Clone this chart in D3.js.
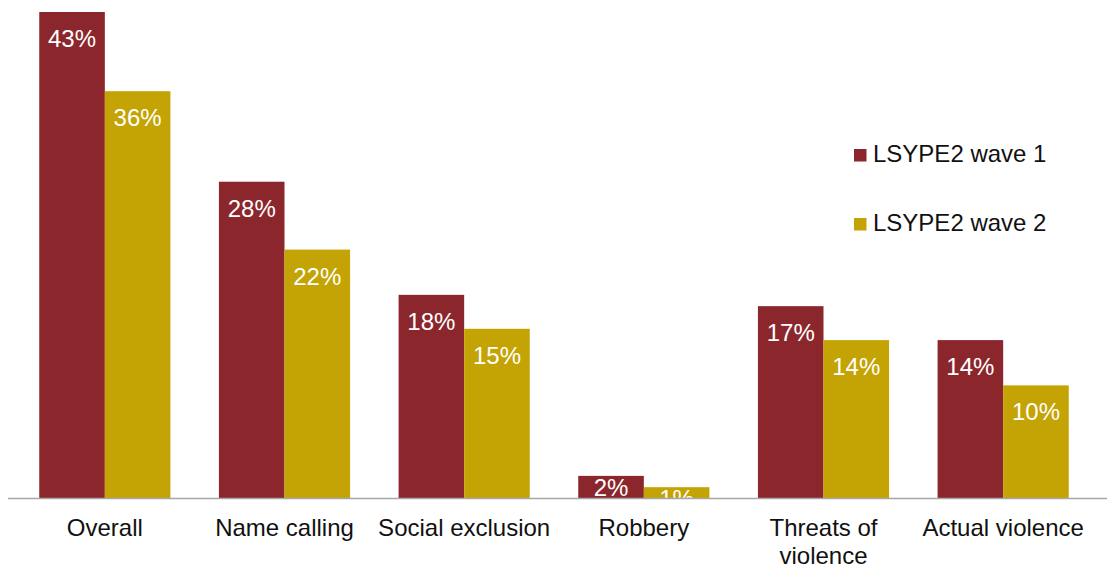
<!DOCTYPE html>
<html>
<head>
<meta charset="utf-8">
<script src="https://cdn.jsdelivr.net/npm/d3@7"></script>
<style>
  html, body { margin: 0; padding: 0; background: #fff; }
  svg { display: block; font-family: "Liberation Sans", Arial, sans-serif; }
</style>
</head>
<body>
<svg id="chart" width="1107" height="569"></svg>
<script>
// Bullying experienced, by type, across the two survey waves (%)
const categories = ["Overall", "Name calling", "Social exclusion", "Robbery", "Threats of violence", "Actual violence"];
const seriesNames = ["LSYPE2 wave 1", "LSYPE2 wave 2"];
const wave1 = [43, 28, 18, 2, 17, 14];
const wave2 = [36, 22, 15, 1, 14, 10];
const seriesColors = ["#8b262c", "#c4a304"];

const svg = d3.select("#chart");
const W = 1107, H = 569;
const baseY = 498.5;

const x = d3.scaleBand()
  .domain(categories)
  .range([15, 1093])
  .paddingInner(0.27)
  .paddingOuter(0.135);

const xs = d3.scaleBand()
  .domain(seriesNames)
  .range([0, x.bandwidth()]);

const y = d3.scaleLinear()
  .domain([0, 43])
  .range([baseY, 12]);

const rows = categories.map((c, i) => ({
  cat: c,
  vals: [
    { series: seriesNames[0], value: wave1[i], color: seriesColors[0] },
    { series: seriesNames[1], value: wave2[i], color: seriesColors[1] }
  ]
}));

// clip so value labels never spill below the baseline
svg.append("defs").append("clipPath").attr("id", "plotClip")
  .append("rect").attr("x", 0).attr("y", 0).attr("width", W).attr("height", baseY);

const groups = svg.append("g").selectAll("g.grp")
  .data(rows).join("g")
  .attr("class", "grp")
  .attr("transform", d => `translate(${x(d.cat)},0)`);

groups.selectAll("rect")
  .data(d => d.vals).join("rect")
  .attr("x", d => xs(d.series))
  .attr("y", d => y(d.value))
  .attr("width", xs.bandwidth())
  .attr("height", d => baseY - y(d.value))
  .attr("fill", d => d.color);

groups.append("g").attr("clip-path", "url(#plotClip)")
  .selectAll("text")
  .data(d => d.vals).join("text")
  .attr("x", d => xs(d.series) + xs.bandwidth() / 2)
  .attr("y", d => {
    const h = baseY - y(d.value);
    return y(d.value) + (h > 40 ? 35 : 20);
  })
  .attr("text-anchor", "middle")
  .attr("fill", "#ffffff")
  .attr("font-size", 24)
  .text(d => d.value + "%");

// category axis
const axis = svg.append("g").attr("transform", `translate(0,${baseY})`)
  .call(d3.axisBottom(x).tickSize(0).tickPadding(0));
axis.select(".domain").remove();
axis.append("line")
  .attr("x1", 8).attr("x2", W).attr("y1", 0).attr("y2", 0)
  .attr("stroke", "#a6a6a6").attr("stroke-width", 1.5);

axis.selectAll(".tick text")
  .attr("font-size", 24)
  .attr("font-family", "'Liberation Sans', Arial, sans-serif")
  .attr("fill", "#111")
  .attr("y", 0).attr("dy", null)
  .each(function(d) {
    const t = d3.select(this);
    const words = d.split(" ");
    t.text(null);
    let lines = [[]];
    const probe = t.append("tspan");
    words.forEach(w => {
      const cur = lines[lines.length - 1];
      probe.text(cur.concat(w).join(" "));
      if (cur.length && probe.node().getComputedTextLength() > x.step()) {
        lines.push([w]);
      } else {
        cur.push(w);
      }
    });
    probe.remove();
    lines.forEach((ln, i) => {
      t.append("tspan")
        .attr("x", 0)
        .attr("y", 37 + i * 28)
        .text(ln.join(" "));
    });
  });

// legend
const legend = svg.append("g").attr("transform", "translate(854,0)");
const legRows = legend.selectAll("g")
  .data(seriesNames).join("g")
  .attr("transform", (d, i) => `translate(0,${149 + i * 69})`);
legRows.append("rect")
  .attr("width", 12.5).attr("height", 12.5)
  .attr("fill", (d, i) => seriesColors[i]);
legRows.append("text")
  .attr("x", 19).attr("y", 13)
  .attr("font-size", 24)
  .attr("fill", "#111")
  .text(d => d);
</script>
</body>
</html>
